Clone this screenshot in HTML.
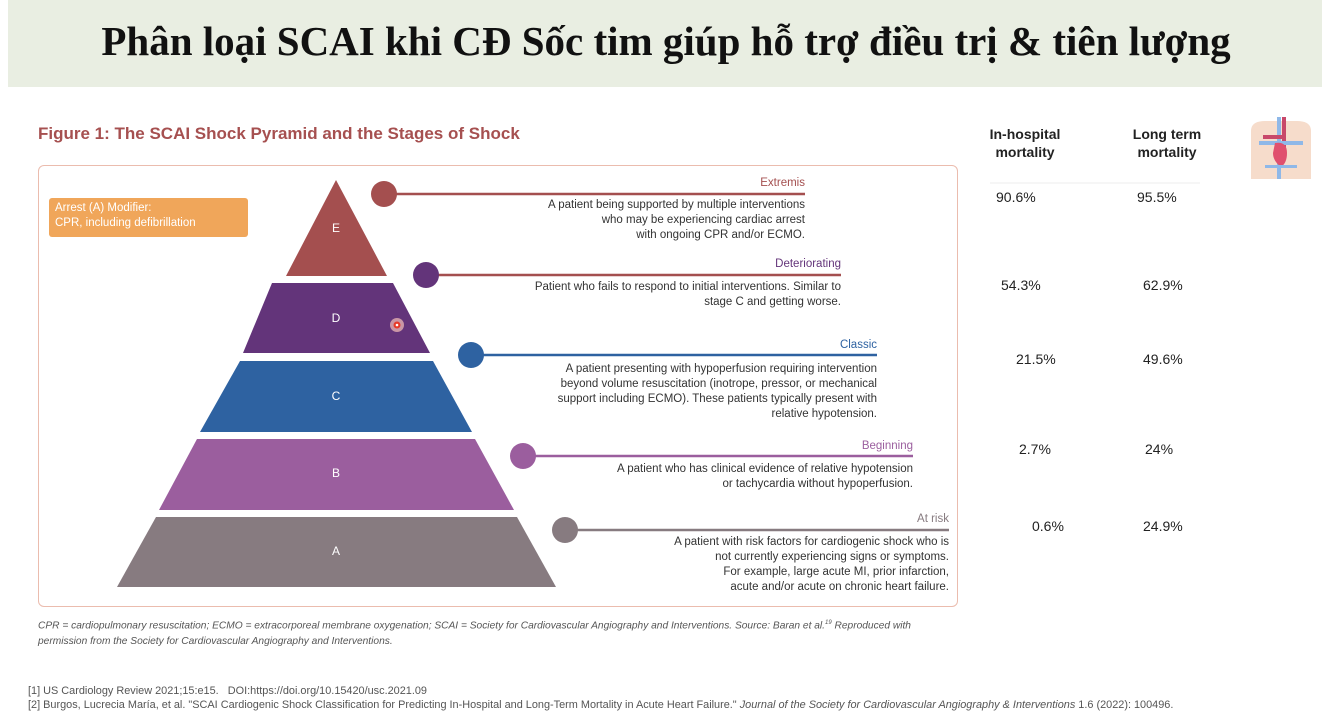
<!DOCTYPE html>
<html><head><meta charset="utf-8"><style>
body{margin:0;width:1332px;height:718px;background:#fff;position:relative;overflow:hidden;font-family:"Liberation Sans",sans-serif}
.a{position:absolute}
.t{font-size:11.5px;color:#333;text-align:right;line-height:15px}
.lab{font-size:11.5px;text-align:right}
.m{font-size:14px;color:#222}
</style></head><body>
<div class="a" style="left:8px;top:0;width:1314px;height:87px;background:#e9eee2"></div>
<div class="a" style="left:0;top:17px;width:1332px;text-align:center;font-family:'Liberation Serif',serif;font-weight:bold;font-size:41px;color:#111">Phân loại SCAI khi CĐ Sốc tim giúp hỗ trợ điều trị &amp; tiên lượng</div>
<div class="a" style="left:38px;top:124px;font-size:17px;font-weight:bold;color:#a65050">Figure 1: The SCAI Shock Pyramid and the Stages of Shock</div>
<div class="a" style="left:38px;top:165px;width:918px;height:440px;border:1.5px solid #ebbcae;border-radius:6px"></div>
<div class="a" style="left:49px;top:198px;width:199px;height:39px;background:#f0a65a;border-radius:3px;color:#fff;font-size:11.5px;line-height:15px;padding:3px 0 0 6px;box-sizing:border-box">Arrest (A) Modifier:<br>CPR, including defibrillation</div>
<svg class="a" style="left:0;top:0" width="1332" height="718">
<polygon points="336,180 387,276 286,276" fill="#a44f4f"/>
<polygon points="272,283 393,283 430,353 243,353" fill="#63347a"/>
<polygon points="240,361 433,361 472,432 200,432" fill="#2e62a1"/>
<polygon points="197,439 475,439 514,510 159,510" fill="#9b5e9e"/>
<polygon points="156,517 517,517 556,587 117,587" fill="#877b80"/>
<circle cx="397" cy="325" r="7" fill="#f6c0b8" opacity=".7"/><circle cx="397" cy="325" r="3.5" fill="#e63a2a"/><circle cx="397" cy="325" r="1.3" fill="#fff"/>
<g font-size="12" fill="#fff" text-anchor="middle" font-family="Liberation Sans">
<text x="336" y="232">E</text><text x="336" y="322">D</text><text x="336" y="400">C</text><text x="336" y="477">B</text><text x="336" y="555">A</text></g>
<line x1="384" y1="194" x2="805" y2="194" stroke="#a44f4f" stroke-width="2.5"/><circle cx="384" cy="194" r="13" fill="#a44f4f"/>
<line x1="426" y1="275" x2="841" y2="275" stroke="#a44f4f" stroke-width="2.5"/><circle cx="426" cy="275" r="13" fill="#63347a"/>
<line x1="471" y1="355" x2="877" y2="355" stroke="#2e62a1" stroke-width="2.5"/><circle cx="471" cy="355" r="13" fill="#2e62a1"/>
<line x1="523" y1="456" x2="913" y2="456" stroke="#9b5e9e" stroke-width="2.5"/><circle cx="523" cy="456" r="13" fill="#9b5e9e"/>
<line x1="565" y1="530" x2="949" y2="530" stroke="#877b80" stroke-width="2.5"/><circle cx="565" cy="530" r="13" fill="#877b80"/>
<line x1="990" y1="183" x2="1200" y2="183" stroke="#eee"/>
<g transform="translate(1245,113)">
<path d="M6 18 Q6 8 20 8 L52 8 Q66 8 66 18 L66 66 L6 66 Z" fill="#f6dccb"/>
<rect x="32" y="4" width="4" height="62" fill="#8fb8e8"/><rect x="37" y="4" width="4" height="30" fill="#c8486a"/>
<rect x="14" y="28" width="44" height="4" fill="#8fb8e8"/><rect x="18" y="22" width="20" height="4" fill="#c8486a"/>
<path d="M30 30 Q42 28 42 40 Q42 50 36 54 Q28 48 28 40 Z" fill="#e0506e"/>
<rect x="20" y="52" width="32" height="3" fill="#8fb8e8"/>
</g>
</svg>
<div class="a lab" style="right:527px;top:177px;color:#a44f4f">Extremis</div>
<div class="a t" style="right:527px;top:198px">A patient being supported by multiple interventions<br>who may be experiencing cardiac arrest<br>with ongoing CPR and/or ECMO.</div>
<div class="a lab" style="right:491px;top:258px;color:#63347a">Deteriorating</div>
<div class="a t" style="right:491px;top:280px">Patient who fails to respond to initial interventions. Similar to<br>stage C and getting worse.</div>
<div class="a lab" style="right:455px;top:339px;color:#2e62a1">Classic</div>
<div class="a t" style="right:455px;top:362px">A patient presenting with hypoperfusion requiring intervention<br>beyond volume resuscitation (inotrope, pressor, or mechanical<br>support including ECMO). These patients typically present with<br>relative hypotension.</div>
<div class="a lab" style="right:419px;top:440px;color:#9b5e9e">Beginning</div>
<div class="a t" style="right:419px;top:462px">A patient who has clinical evidence of relative hypotension<br>or tachycardia without hypoperfusion.</div>
<div class="a lab" style="right:383px;top:513px;color:#877b80">At risk</div>
<div class="a t" style="right:383px;top:535px">A patient with risk factors for cardiogenic shock who is<br>not currently experiencing signs or symptoms.<br>For example, large acute MI, prior infarction,<br>acute and/or acute on chronic heart failure.</div>
<div class="a" style="left:38px;top:615px;font-size:10.2px;font-style:italic;color:#555;line-height:16px">CPR = cardiopulmonary resuscitation; ECMO = extracorporeal membrane oxygenation; SCAI = Society for Cardiovascular Angiography and Interventions. Source: Baran et al.<sup style="font-size:6px">19</sup> Reproduced with<br>permission from the Society for Cardiovascular Angiography and Interventions.</div>
<div class="a" style="left:970px;top:125px;width:110px;text-align:center;font-weight:bold;font-size:14px;line-height:18px;color:#222">In-hospital<br>mortality</div>
<div class="a" style="left:1112px;top:125px;width:110px;text-align:center;font-weight:bold;font-size:14px;line-height:18px;color:#222">Long term<br>mortality</div>
<div class="a m" style="left:996px;top:189px">90.6%</div><div class="a m" style="left:1137px;top:189px">95.5%</div>
<div class="a m" style="left:1001px;top:277px">54.3%</div><div class="a m" style="left:1143px;top:277px">62.9%</div>
<div class="a m" style="left:1016px;top:351px">21.5%</div><div class="a m" style="left:1143px;top:351px">49.6%</div>
<div class="a m" style="left:1019px;top:441px">2.7%</div><div class="a m" style="left:1145px;top:441px">24%</div>
<div class="a m" style="left:1032px;top:518px">0.6%</div><div class="a m" style="left:1143px;top:518px">24.9%</div>
<div class="a" style="left:28px;top:684px;font-size:10.9px;color:#555;line-height:14px;white-space:nowrap">[1] US Cardiology Review 2021;15:e15.&nbsp;&nbsp;&nbsp;DOI:https://doi.org/10.15420/usc.2021.09<br>[2] Burgos, Lucrecia María, et al. "SCAI Cardiogenic Shock Classification for Predicting In-Hospital and Long-Term Mortality in Acute Heart Failure." <i>Journal of the Society for Cardiovascular Angiography &amp; Interventions</i> 1.6 (2022): 100496.</div>
</body></html>
